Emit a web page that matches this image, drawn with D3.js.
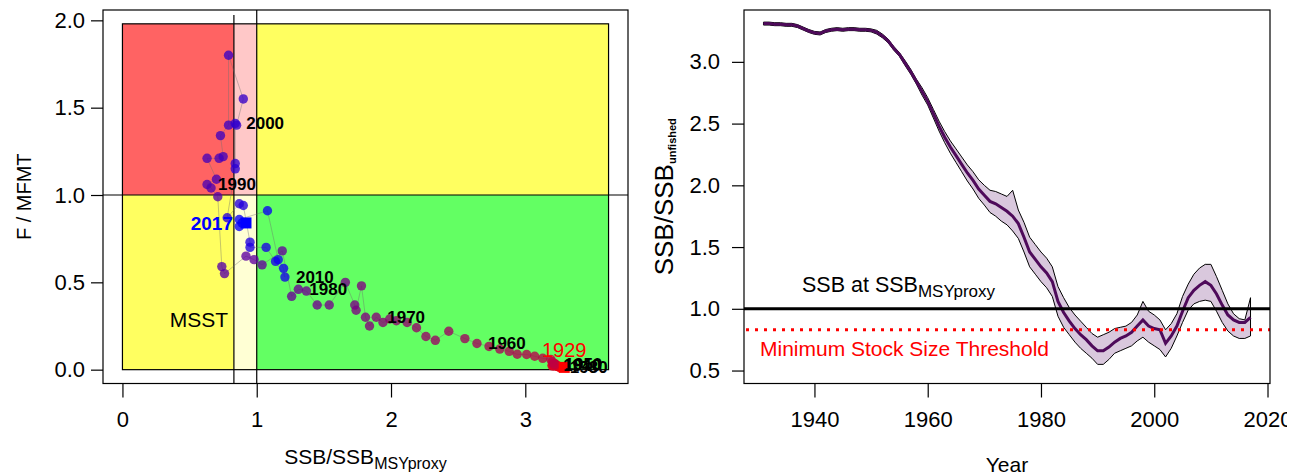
<!DOCTYPE html>
<html>
<head>
<meta charset="utf-8">
<script src="https://cdn.jsdelivr.net/npm/d3@7"></script>
<style>
  body { margin: 0; background: #fff; }
  svg { display: block; font-family: "Liberation Sans", Arial, sans-serif; }
</style>
</head>
<body>
<svg id="chart" width="1296" height="476"></svg>
<script>
// ---------- data ----------
// Kobe plot: one point per year, 1929-2017
const kobeYears = d3.range(1929, 2018);
const kobeSSB = [
  3.29, 3.25, 3.25, 3.25, 3.25, 3.25, 3.24, 3.24, 3.24, 3.22,
  3.21, 3.20, 3.20, 3.21, 3.22, 3.22, 3.22, 3.22, 3.22, 3.22,
  3.22, 3.21, 3.20, 3.19, 3.13, 3.07, 3.01, 2.94, 2.88, 2.81,
  2.73, 2.64, 2.55, 2.43, 2.33, 2.26, 2.19, 2.12, 2.04, 1.99,
  1.94, 1.89, 1.84, 1.81, 1.78, 1.74, 1.73, 1.66, 1.54, 1.45,
  1.37, 1.31, 1.26, 1.19, 1.04, 0.98, 0.92, 0.76, 0.74, 0.71,
  0.66, 0.63, 0.70, 0.63, 0.72, 0.75, 0.73, 0.79, 0.79, 0.90,
  0.85, 0.84, 0.84, 0.84, 0.78, 0.87, 0.90, 0.95, 0.95, 1.07,
  1.14, 1.21, 1.20, 1.16, 1.08, 0.87, 0.87, 0.89, 0.92
];
const kobeF = [
  0.013, 0.015, 0.015, 0.016, 0.018, 0.018, 0.020, 0.020, 0.022, 0.022,
  0.025, 0.025, 0.022, 0.022, 0.025, 0.025, 0.028, 0.030, 0.030, 0.032,
  0.035, 0.035, 0.045, 0.059, 0.065, 0.077, 0.087, 0.088, 0.105, 0.118,
  0.133, 0.150, 0.178, 0.220, 0.168, 0.190, 0.240, 0.270, 0.280, 0.290,
  0.270, 0.300, 0.250, 0.300, 0.480, 0.340, 0.370, 0.500, 0.370, 0.370,
  0.450, 0.460, 0.420, 0.680, 0.600, 0.630, 0.650, 0.550, 0.590, 0.990,
  1.040, 1.060, 1.090, 1.210, 1.210, 1.220, 1.340, 1.400, 1.800, 1.550,
  1.400, 1.410, 1.180, 1.150, 0.870, 0.950, 0.940, 0.730, 0.700, 0.700,
  0.620, 0.530, 0.580, 0.630, 0.910, 0.860, 0.820, 0.840, 0.840
];
const labelYears = [1930, 1940, 1950, 1960, 1970, 1980, 1990, 2000, 2010];
const kobeXTicks = [0, 1, 2, 3];
const kobeYTicks = [0, 0.5, 1, 1.5, 2];
const kobeXMax = 3.62;
const kobeYMax = 1.98;
const msst = 0.83;

// SSB / SSB unfished time series, 1931-2017
const ssbYears = d3.range(1931, 2018);
const ssbMid = [
  3.31, 3.31, 3.305, 3.305, 3.30, 3.30, 3.29, 3.27, 3.25, 3.235,
  3.23, 3.25, 3.26, 3.265, 3.26, 3.265, 3.265, 3.26, 3.26, 3.255,
  3.24, 3.21, 3.17, 3.11, 3.06, 2.99, 2.92, 2.84, 2.76, 2.68,
  2.58, 2.48, 2.39, 2.31, 2.24, 2.17, 2.10, 2.04, 1.97, 1.92,
  1.87, 1.85, 1.82, 1.79, 1.75, 1.69, 1.58, 1.46, 1.40, 1.34,
  1.29, 1.22, 1.06, 0.97, 0.90, 0.84, 0.79, 0.75, 0.70, 0.66,
  0.66, 0.69, 0.73, 0.76, 0.78, 0.81, 0.86, 0.91, 0.86, 0.84,
  0.83, 0.72, 0.78, 0.86, 0.98, 1.09, 1.15, 1.19, 1.22, 1.19,
  1.12, 1.03, 0.95, 0.91, 0.89, 0.89, 0.93
];
const ssbLo = [
  3.298, 3.298, 3.293, 3.293, 3.288, 3.288, 3.278, 3.258, 3.238, 3.223,
  3.218, 3.238, 3.248, 3.253, 3.248, 3.253, 3.253, 3.248, 3.248, 3.243,
  3.225, 3.195, 3.155, 3.095, 3.045, 2.97, 2.90, 2.82, 2.73, 2.65,
  2.545, 2.44, 2.345, 2.26, 2.185, 2.11, 2.035, 1.97, 1.895, 1.84,
  1.78, 1.75, 1.71, 1.68, 1.63, 1.57, 1.46, 1.34, 1.28, 1.22,
  1.17, 1.10, 0.94, 0.85, 0.79, 0.73, 0.68, 0.64, 0.60, 0.55,
  0.55, 0.59, 0.64, 0.66, 0.68, 0.70, 0.74, 0.77, 0.73, 0.70,
  0.67, 0.61, 0.68, 0.78, 0.89, 0.99, 1.04, 1.06, 1.07, 1.06,
  0.98, 0.89, 0.82, 0.78, 0.76, 0.76, 0.78
];
const ssbHi = [
  3.322, 3.322, 3.317, 3.317, 3.312, 3.312, 3.302, 3.282, 3.262, 3.247,
  3.242, 3.262, 3.272, 3.277, 3.272, 3.277, 3.277, 3.272, 3.272, 3.267,
  3.255, 3.225, 3.185, 3.125, 3.075, 3.01, 2.94, 2.86, 2.79, 2.71,
  2.615, 2.52, 2.435, 2.36, 2.295, 2.23, 2.165, 2.11, 2.045, 2.00,
  1.96, 1.95, 1.93, 1.91, 1.96, 1.80, 1.70, 1.58, 1.52, 1.46,
  1.41, 1.34, 1.18, 1.09, 1.01, 0.95, 0.90, 0.85, 0.80, 0.77,
  0.79, 0.81, 0.84, 0.85, 0.86, 0.89, 0.95, 1.06, 0.98, 0.95,
  0.91, 0.83, 0.88, 0.96, 1.10, 1.20, 1.28, 1.33, 1.36, 1.36,
  1.26, 1.15, 1.04, 0.96, 0.92, 0.91, 1.09
];
const ssbYTicks = [0.5, 1.0, 1.5, 2.0, 2.5, 3.0];
const yearTicks = [1940, 1960, 1980, 2000, 2020];
const ssbTarget = 1.0;
const ssbMsst = 0.83;

// ---------- drawing ----------
const svg = d3.select('#chart');
svg.append('rect').attr('width', 1296).attr('height', 476).attr('fill', '#fff');

const TICK_FONT = 22;

/* Left panel: Kobe plot */
const L = { left: 103, right: 628, top: 10, bottom: 383.5 };
const kxPad = kobeXMax * 0.04, kyPad = kobeYMax * 0.04;
const kx = d3.scaleLinear().domain([-kxPad, kobeXMax + kxPad]).range([L.left, L.right]);
const ky = d3.scaleLinear().domain([-kyPad, kobeYMax + kyPad]).range([L.bottom, L.top]);

const zones = [
  { x0: 0, x1: msst, y0: 1, y1: kobeYMax, fill: '#ff6363' },
  { x0: msst, x1: 1, y0: 1, y1: kobeYMax, fill: '#ffc8c8' },
  { x0: 1, x1: kobeXMax, y0: 1, y1: kobeYMax, fill: '#ffff60' },
  { x0: 0, x1: msst, y0: 0, y1: 1, fill: '#ffff60' },
  { x0: msst, x1: 1, y0: 0, y1: 1, fill: '#ffffd4' },
  { x0: 1, x1: kobeXMax, y0: 0, y1: 1, fill: '#63ff63' }
];
const kobe = svg.append('g');
kobe.selectAll('rect.zone').data(zones).enter().append('rect')
  .attr('class', 'zone')
  .attr('x', d => kx(d.x0)).attr('y', d => ky(d.y1))
  .attr('width', d => kx(d.x1) - kx(d.x0))
  .attr('height', d => ky(d.y0) - ky(d.y1))
  .attr('fill', d => d.fill);
kobe.append('rect')
  .attr('x', kx(0)).attr('y', ky(kobeYMax))
  .attr('width', kx(kobeXMax) - kx(0)).attr('height', ky(0) - ky(kobeYMax))
  .attr('fill', 'none').attr('stroke', '#000').attr('stroke-width', 1.2);

// reference lines
kobe.append('line').attr('x1', kx(1)).attr('x2', kx(1)).attr('y1', L.top).attr('y2', L.bottom)
  .attr('stroke', '#000').attr('stroke-width', 1.2);
kobe.append('line').attr('x1', L.left).attr('x2', L.right).attr('y1', ky(1)).attr('y2', ky(1))
  .attr('stroke', '#000').attr('stroke-width', 1.2);
kobe.append('line').attr('x1', kx(msst)).attr('x2', kx(msst)).attr('y1', ky(2.03)).attr('y2', L.bottom)
  .attr('stroke', '#000').attr('stroke-width', 1.2);

// trajectory
const kobeData = kobeYears.map((yr, i) => ({ year: yr, x: kobeSSB[i], f: kobeF[i] }));
const yearColor = d3.scaleLinear().domain([kobeYears[0], kobeYears[kobeYears.length - 1]])
  .range(['#ff0000', '#0000ff']).interpolate(d3.interpolateRgb);

kobe.append('path').datum(kobeData)
  .attr('d', d3.line().x(d => kx(d.x)).y(d => ky(d.f)))
  .attr('fill', 'none').attr('stroke', 'rgba(110,110,110,0.4)').attr('stroke-width', 1);

kobe.selectAll('circle.pt').data(kobeData).enter().append('circle')
  .attr('class', 'pt')
  .attr('cx', d => kx(d.x)).attr('cy', d => ky(d.f)).attr('r', 4.7)
  .attr('fill', d => yearColor(d.year)).attr('fill-opacity', 0.78);

const first = kobeData[0], last = kobeData[kobeData.length - 1];
[[first, '#ff0000'], [last, '#0000ff']].forEach(([d, c]) => {
  kobe.append('rect').attr('x', kx(d.x) - 5.5).attr('y', ky(d.f) - 5.5)
    .attr('width', 11).attr('height', 11).attr('fill', c);
});

kobe.selectAll('text.yr').data(kobeData.filter(d => labelYears.includes(d.year))).enter().append('text')
  .attr('class', 'yr')
  .attr('x', d => kx(d.x) + 11).attr('y', d => ky(d.f)).attr('dy', '0.35em')
  .attr('font-size', 17).attr('font-weight', 'bold').attr('fill', '#000')
  .text(d => d.year);
kobe.append('text').attr('x', kx(first.x)).attr('y', ky(first.f) - 17).attr('dy', '0.35em')
  .attr('text-anchor', 'middle').attr('font-size', 20).attr('fill', '#ff0000').text(first.year);
kobe.append('text').attr('x', kx(last.x) - 13).attr('y', ky(last.f)).attr('dy', '0.35em')
  .attr('text-anchor', 'end').attr('font-size', 19).attr('font-weight', 'bold')
  .attr('fill', '#0000ff').text(last.year);
kobe.append('text').attr('x', kx(msst) - 35).attr('y', 327.3).attr('text-anchor', 'middle')
  .attr('font-size', 21).attr('fill', '#000').text('MSST');

// box + axes
kobe.append('rect').attr('x', L.left).attr('y', L.top)
  .attr('width', L.right - L.left).attr('height', L.bottom - L.top)
  .attr('fill', 'none').attr('stroke', '#000').attr('stroke-width', 1.2);

function styleAxis(g) {
  g.select('.domain').remove();
  g.selectAll('line').attr('stroke', '#000').attr('stroke-width', 1.2);
  g.selectAll('text').attr('font-size', TICK_FONT).attr('fill', '#000')
    .attr('font-family', '"Liberation Sans", Arial, sans-serif');
}
svg.append('g').attr('transform', `translate(0,${L.bottom})`)
  .call(d3.axisBottom(kx).tickValues(kobeXTicks).tickSize(14).tickPadding(14).tickFormat(d3.format('d')))
  .call(styleAxis);
svg.append('g').attr('transform', `translate(${L.left},0)`)
  .call(d3.axisLeft(ky).tickValues(kobeYTicks).tickSize(12).tickPadding(6).tickFormat(d3.format('.1f')))
  .call(styleAxis);

const lxl = svg.append('text').attr('x', (L.left + L.right) / 2).attr('y', 464)
  .attr('text-anchor', 'middle').attr('font-size', 21).attr('fill', '#000');
lxl.append('tspan').text('SSB/SSB');
lxl.append('tspan').attr('font-size', 16).attr('dy', 5).text('MSYproxy');
svg.append('text').attr('transform', `translate(31,${(L.top + L.bottom) / 2}) rotate(-90)`)
  .attr('text-anchor', 'middle').attr('font-size', 20).attr('fill', '#000').text('F / MFMT');

/* Right panel: SSB time series */
const R = { left: 744, right: 1270, top: 10, bottom: 383.5 };
const yrPad = (ssbYears[ssbYears.length - 1] - ssbYears[0]) * 0.04;
const rx = d3.scaleLinear().domain([ssbYears[0] - yrPad, ssbYears[ssbYears.length - 1] + yrPad])
  .range([R.left, R.right]);
const ry = d3.scaleLinear().domain([0.395, 3.42]).range([R.bottom, R.top]);

const ssbData = ssbYears.map((yr, i) => ({ year: yr, mid: ssbMid[i], lo: ssbLo[i], hi: ssbHi[i] }));
const right = svg.append('g');
right.append('path').datum(ssbData)
  .attr('d', d3.area().x(d => rx(d.year)).y0(d => ry(d.lo)).y1(d => ry(d.hi)))
  .attr('fill', '#d9c8dd').attr('stroke', '#000').attr('stroke-width', 1);
right.append('path').datum(ssbData)
  .attr('d', d3.line().x(d => rx(d.year)).y(d => ry(d.mid)))
  .attr('fill', 'none').attr('stroke', '#4e0a5a').attr('stroke-width', 3);

right.append('line').attr('x1', R.left).attr('x2', R.right).attr('y1', ry(ssbTarget)).attr('y2', ry(ssbTarget))
  .attr('stroke', '#000').attr('stroke-width', 3);
right.append('line').attr('x1', R.left + 2).attr('x2', R.right).attr('y1', ry(ssbMsst)).attr('y2', ry(ssbMsst))
  .attr('stroke', '#ff0000').attr('stroke-width', 3).attr('stroke-dasharray', '3,6');

const tgt = right.append('text').attr('x', 802).attr('y', 291.7).attr('font-size', 21.5).attr('fill', '#000');
tgt.append('tspan').text('SSB at SSB');
tgt.append('tspan').attr('font-size', 17).attr('dy', 5).text('MSYproxy');
right.append('text').attr('x', 760).attr('y', 356).attr('font-size', 21).attr('fill', '#ff0000')
  .text('Minimum Stock Size Threshold');

right.append('rect').attr('x', R.left).attr('y', R.top)
  .attr('width', R.right - R.left).attr('height', R.bottom - R.top)
  .attr('fill', 'none').attr('stroke', '#000').attr('stroke-width', 1.2);

// the figure is cropped just right of the last year label
svg.append('clipPath').attr('id', 'cropRight')
  .append('rect').attr('x', 0).attr('y', 0).attr('width', 1287).attr('height', 476);
svg.append('g').attr('transform', `translate(0,${R.bottom})`).attr('clip-path', 'url(#cropRight)')
  .call(d3.axisBottom(rx).tickValues(yearTicks).tickSize(14).tickPadding(14).tickFormat(d3.format('d')))
  .call(styleAxis);
svg.append('g').attr('transform', `translate(${R.left},0)`)
  .call(d3.axisLeft(ry).tickValues(ssbYTicks).tickSize(12).tickPadding(12).tickFormat(d3.format('.1f')))
  .call(styleAxis);

svg.append('text').attr('x', (R.left + R.right) / 2).attr('y', 472).attr('text-anchor', 'middle')
  .attr('font-size', 21).attr('fill', '#000').text('Year');
const ryl = svg.append('text').attr('transform', `translate(673,${(R.top + R.bottom) / 2}) rotate(-90)`)
  .attr('text-anchor', 'middle').attr('font-size', 26).attr('fill', '#000');
ryl.append('tspan').text('SSB/SSB');
ryl.append('tspan').attr('font-size', 11).attr('font-weight', 'bold').attr('dy', 3).text('unfished');
</script>
</body>
</html>
